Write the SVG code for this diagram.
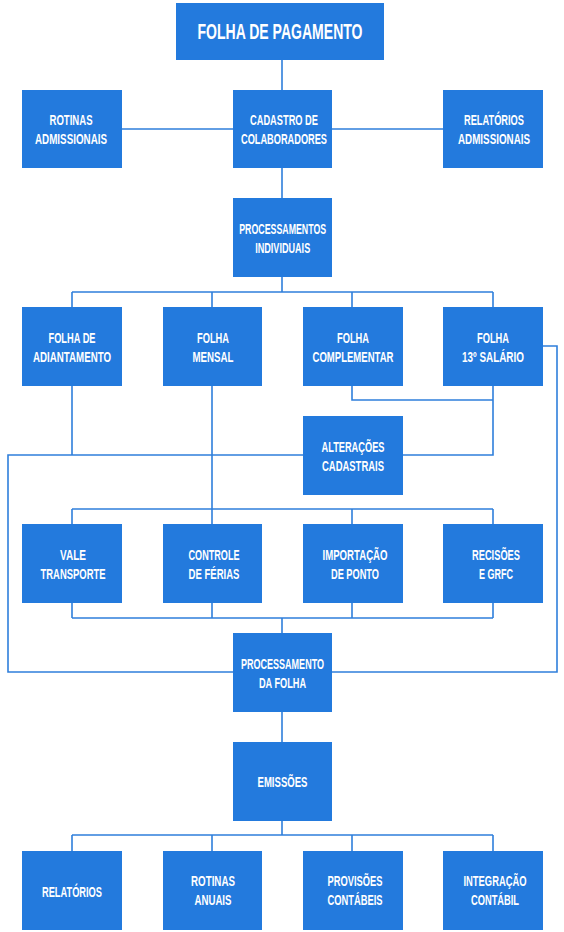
<svg xmlns="http://www.w3.org/2000/svg" width="564" height="932" viewBox="0 0 564 932">
<style>
.b{fill:#237ADD}
.t{fill:#fff;font-family:"Liberation Sans",Arial,sans-serif;font-weight:bold;font-size:15px;text-anchor:middle}
.c{fill:none;stroke:#2F7FDB;stroke-width:1.6}
</style>
<rect width="564" height="932" fill="#fff"/>
<g id="connectors" class="c">
<path d="M282 60V90M122 129H443M282 168V198M282 277V292M72 292H493M72 292V307M212 292V307M352 292V307M493 292V307"/>
<path d="M352 386V400H493M493 386V455H8V672H233M72 386V455M212 386V524M543 346H557V672H332"/>
<path d="M72 509H493M72 509V524M352 509V524M493 509V524"/>
<path d="M72 603V618M212 603V618M352 603V618M493 603V618M72 618H493M282 618V633"/>
<path d="M282 712V742M282 821V835M72 835H493M72 835V851M212 835V851M352 835V851M493 835V851"/>
</g>
<g id="n-folha-pagamento"><rect class="b" x="176" y="3" width="208" height="57"/><text class="t" x="280" y="39" style="font-size:22px" textLength="165" lengthAdjust="spacingAndGlyphs">FOLHA DE PAGAMENTO</text></g>
<g id="n-rotinas-adm"><rect class="b" x="22" y="90" width="100" height="78"/><text class="t" x="71" y="125" textLength="43" lengthAdjust="spacingAndGlyphs">ROTINAS</text><text class="t" x="71" y="144" textLength="72" lengthAdjust="spacingAndGlyphs">ADMISSIONAIS</text></g>
<g id="n-cadastro"><rect class="b" x="233" y="90" width="99" height="78"/><text class="t" x="284" y="125" textLength="68" lengthAdjust="spacingAndGlyphs">CADASTRO DE</text><text class="t" x="284" y="144" textLength="86" lengthAdjust="spacingAndGlyphs">COLABORADORES</text></g>
<g id="n-relatorios-adm"><rect class="b" x="443" y="90" width="100" height="78"/><text class="t" x="494" y="125" textLength="60" lengthAdjust="spacingAndGlyphs">RELATÓRIOS</text><text class="t" x="494" y="144" textLength="72" lengthAdjust="spacingAndGlyphs">ADMISSIONAIS</text></g>
<g id="n-proc-ind"><rect class="b" x="233" y="198" width="99" height="79"/><text class="t" x="282.7" y="234" textLength="87" lengthAdjust="spacingAndGlyphs">PROCESSAMENTOS</text><text class="t" x="282.7" y="253" textLength="55" lengthAdjust="spacingAndGlyphs">INDIVIDUAIS</text></g>
<g id="n-adiantamento"><rect class="b" x="22" y="307" width="100" height="79"/><text class="t" x="72" y="343" textLength="47" lengthAdjust="spacingAndGlyphs">FOLHA DE</text><text class="t" x="72" y="362" textLength="78" lengthAdjust="spacingAndGlyphs">ADIANTAMENTO</text></g>
<g id="n-mensal"><rect class="b" x="163" y="307" width="99" height="79"/><text class="t" x="213" y="343" textLength="32" lengthAdjust="spacingAndGlyphs">FOLHA</text><text class="t" x="213" y="362" textLength="41" lengthAdjust="spacingAndGlyphs">MENSAL</text></g>
<g id="n-complementar"><rect class="b" x="303" y="307" width="100" height="79"/><text class="t" x="353" y="343" textLength="32" lengthAdjust="spacingAndGlyphs">FOLHA</text><text class="t" x="353" y="362" textLength="81" lengthAdjust="spacingAndGlyphs">COMPLEMENTAR</text></g>
<g id="n-13"><rect class="b" x="443" y="307" width="100" height="79"/><text class="t" x="493" y="343" textLength="32" lengthAdjust="spacingAndGlyphs">FOLHA</text><text class="t" x="493" y="362" textLength="62" lengthAdjust="spacingAndGlyphs">13º SALÁRIO</text></g>
<g id="n-alteracoes"><rect class="b" x="303" y="416" width="100" height="79"/><text class="t" x="353" y="452" textLength="63" lengthAdjust="spacingAndGlyphs">ALTERAÇÕES</text><text class="t" x="353" y="471" textLength="62" lengthAdjust="spacingAndGlyphs">CADASTRAIS</text></g>
<g id="n-vale"><rect class="b" x="22" y="524" width="100" height="79"/><text class="t" x="73" y="560" textLength="26" lengthAdjust="spacingAndGlyphs">VALE</text><text class="t" x="73" y="579" textLength="65" lengthAdjust="spacingAndGlyphs">TRANSPORTE</text></g>
<g id="n-ferias"><rect class="b" x="163" y="524" width="99" height="79"/><text class="t" x="214" y="560" textLength="51" lengthAdjust="spacingAndGlyphs">CONTROLE</text><text class="t" x="214" y="579" textLength="51" lengthAdjust="spacingAndGlyphs">DE FÉRIAS</text></g>
<g id="n-ponto"><rect class="b" x="303" y="524" width="100" height="79"/><text class="t" x="355" y="560" textLength="65" lengthAdjust="spacingAndGlyphs">IMPORTAÇÃO</text><text class="t" x="355" y="579" textLength="48" lengthAdjust="spacingAndGlyphs">DE PONTO</text></g>
<g id="n-recisoes"><rect class="b" x="443" y="524" width="100" height="79"/><text class="t" x="496" y="560" textLength="48" lengthAdjust="spacingAndGlyphs">RECISÕES</text><text class="t" x="496" y="579" textLength="34" lengthAdjust="spacingAndGlyphs">E GRFC</text></g>
<g id="n-proc-folha"><rect class="b" x="233" y="633" width="99" height="79"/><text class="t" x="282.5" y="669" textLength="83" lengthAdjust="spacingAndGlyphs">PROCESSAMENTO</text><text class="t" x="282.5" y="688" textLength="47" lengthAdjust="spacingAndGlyphs">DA FOLHA</text></g>
<g id="n-emissoes"><rect class="b" x="233" y="742" width="99" height="79"/><text class="t" x="282.5" y="787" textLength="50" lengthAdjust="spacingAndGlyphs">EMISSÕES</text></g>
<g id="n-relatorios"><rect class="b" x="22" y="851" width="100" height="79"/><text class="t" x="72" y="897" textLength="60" lengthAdjust="spacingAndGlyphs">RELATÓRIOS</text></g>
<g id="n-rotinas-anuais"><rect class="b" x="163" y="851" width="99" height="79"/><text class="t" x="213" y="886" textLength="44" lengthAdjust="spacingAndGlyphs">ROTINAS</text><text class="t" x="213" y="905" textLength="37" lengthAdjust="spacingAndGlyphs">ANUAIS</text></g>
<g id="n-provisoes"><rect class="b" x="303" y="851" width="100" height="79"/><text class="t" x="355" y="886" textLength="55" lengthAdjust="spacingAndGlyphs">PROVISÕES</text><text class="t" x="355" y="905" textLength="55" lengthAdjust="spacingAndGlyphs">CONTÁBEIS</text></g>
<g id="n-integracao"><rect class="b" x="443" y="851" width="100" height="79"/><text class="t" x="495" y="886" textLength="63" lengthAdjust="spacingAndGlyphs">INTEGRAÇÃO</text><text class="t" x="495" y="905" textLength="48" lengthAdjust="spacingAndGlyphs">CONTÁBIL</text></g>
</svg>
